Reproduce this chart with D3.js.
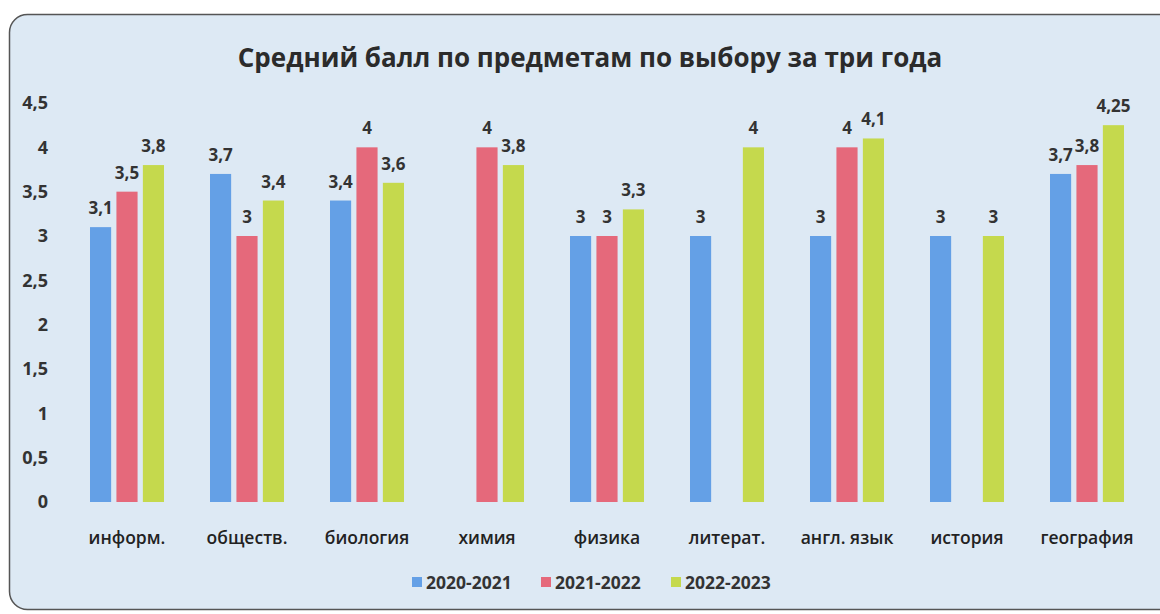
<!DOCTYPE html>
<html lang="ru">
<head>
    <meta charset="UTF-8">
    <title>Средний балл по предметам по выбору за три года</title>
    <script src="https://d3js.org/d3.v7.min.js"></script>
    <style>
        body { margin: 0; background: #ffffff; }
        svg { display: block; font-family: "Open Sans", "DejaVu Sans", sans-serif; }
        .tick text { font-size: 18px; font-weight: 700; fill: #333; }
        .val { font-size: 17px; font-weight: 700; fill: #333; }
        .cat { font-size: 17.5px; font-weight: 600; fill: #222; }
        .leg { font-size: 17.5px; font-weight: 700; fill: #333; }
    </style>
</head>
<body>
<svg id="chart" width="1160" height="614"></svg>
<script>
    // data
    const subjects = ['информ.', 'обществ.', 'биология', 'химия', 'физика', 'литерат.', 'англ. язык', 'история', 'география'];
    const years = ['2020-2021', '2021-2022', '2022-2023'];
    const y2020 = [3.1, 3.7, 3.4, null, 3, 3, 3, 3, 3.7];
    const y2021 = [3.5, 3, 4, 4, 3, null, 4, null, 3.8];
    const y2022 = [3.8, 3.4, 3.6, 3.8, 3.3, 4, 4.1, 3, 4.25];
    const yTicks = [0, 0.5, 1, 1.5, 2, 2.5, 3, 3.5, 4, 4.5];
    const colors = ['#64a0e6', '#e5697b', '#c5d94d'];

    const series = [y2020, y2021, y2022];
    const svg = d3.select('#chart');

    // chart frame
    svg.append('rect')
        .attr('x', 9.5).attr('y', 14.5)
        .attr('width', 1170).attr('height', 595)
        .attr('rx', 18).attr('ry', 18)
        .attr('fill', '#dde9f4')
        .attr('stroke', '#555')
        .attr('stroke-width', 1.5);

    svg.append('text')
        .attr('x', 590).attr('y', 67)
        .attr('text-anchor', 'middle')
        .style('font-size', '26px')
        .style('font-weight', 700)
        .style('fill', '#2b2b2b')
        .text('Средний балл по предметам по выбору за три года');

    const x0 = d3.scaleBand().domain(subjects).range([67, 1147]);
    const x1 = d3.scaleBand().domain(years).range([0, 74]).paddingInner(0.2);
    const y = d3.scaleLinear().domain([0, 4.5]).range([502, 103]);

    const fmt = v => String(v).replace('.', ',');

    // y axis, labels only
    const yAxis = svg.append('g')
        .attr('transform', 'translate(50,0)')
        .call(d3.axisLeft(y).tickValues(yTicks).tickSize(0).tickPadding(2).tickFormat(fmt));
    yAxis.select('.domain').remove();
    yAxis.attr('font-family', null).attr('font-size', null);

    // bars
    const groups = svg.selectAll('.grp')
        .data(subjects)
        .enter().append('g')
        .attr('class', 'grp')
        .attr('transform', d => `translate(${x0(d) + x0.bandwidth() / 2 - 37},0)`);

    groups.each(function(s, i) {
        const g = d3.select(this);
        years.forEach((yr, k) => {
            const v = series[k][i];
            if (v == null) return;
            g.append('rect')
                .attr('x', x1(yr))
                .attr('y', y(v))
                .attr('width', x1.bandwidth())
                .attr('height', y(0) - y(v))
                .attr('fill', colors[k]);
            g.append('text')
                .attr('class', 'val')
                .attr('x', x1(yr) + x1.bandwidth() / 2)
                .attr('y', y(v) - 13)
                .attr('text-anchor', 'middle')
                .text(fmt(v));
        });
    });

    // category labels
    svg.selectAll('.cat')
        .data(subjects)
        .enter().append('text')
        .attr('class', 'cat')
        .attr('x', d => x0(d) + x0.bandwidth() / 2)
        .attr('y', 544)
        .attr('text-anchor', 'middle')
        .text(d => d);

    // legend
    const legX = [412, 541, 671];
    years.forEach((yr, k) => {
        svg.append('rect')
            .attr('x', legX[k]).attr('y', 577)
            .attr('width', 10).attr('height', 10)
            .attr('fill', colors[k]);
        svg.append('text')
            .attr('class', 'leg')
            .attr('x', legX[k] + 14).attr('y', 589)
            .text(yr);
    });
</script>
</body>
</html>
